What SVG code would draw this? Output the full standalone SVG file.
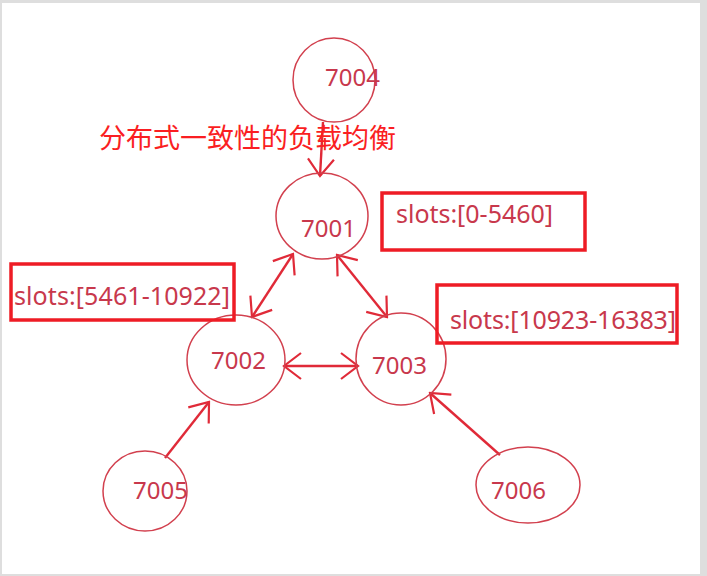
<svg xmlns="http://www.w3.org/2000/svg" width="707" height="576" viewBox="0 0 707 576">
<style>
.node ellipse{fill:none;stroke:#d2404e;stroke-width:1.5}
.node text{font-family:"Noto Sans","Liberation Sans",sans-serif;font-size:24px;fill:#c8384c}
.box rect{fill:none;stroke:#ee1c25;stroke-width:3.5}
.box text{font-family:"Noto Sans","Liberation Sans",sans-serif;font-size:25px;fill:#c8384c}
.conn line{stroke:#e02a38;stroke-width:2.4;fill:none}
.title{font-family:"Noto Sans CJK SC","Noto Sans",sans-serif;font-size:27px;fill:#fa1e22}
</style>
<defs>
<marker id="ah" viewBox="-19 -15 21 30" refX="0" refY="0" markerWidth="21" markerHeight="30" markerUnits="userSpaceOnUse" orient="auto-start-reverse">
<path d="M-17,-13 L0,0 L-17,13" fill="none" stroke="#e02a38" stroke-width="2.2"/>
</marker>
</defs>
<rect x="0" y="0" width="707" height="576" fill="#dedede"/>
<rect x="2" y="3" width="698" height="571" fill="#ffffff"/>

<g id="connectors" class="conn">
<line x1="323" y1="122" x2="320" y2="176" marker-end="url(#ah)"/>
<line x1="293" y1="254" x2="252" y2="317" marker-start="url(#ah)" marker-end="url(#ah)"/>
<line x1="337" y1="255" x2="387" y2="317" marker-start="url(#ah)" marker-end="url(#ah)"/>
<line x1="284" y1="366" x2="358" y2="366" marker-start="url(#ah)" marker-end="url(#ah)"/>
<line x1="165" y1="458" x2="209" y2="402" marker-end="url(#ah)"/>
<line x1="500" y1="455" x2="430" y2="393" marker-end="url(#ah)"/>
</g>

<g id="node-7004" class="node">
<ellipse cx="334" cy="80" rx="41" ry="42"/>
<text x="325" y="86">7004</text>
</g>
<text class="title" x="99" y="148">分布式一致性的负载均衡</text>
<g id="node-7001" class="node">
<ellipse cx="322" cy="216" rx="46" ry="43"/>
<text x="301" y="237">7001</text>
</g>
<g id="node-7002" class="node">
<ellipse cx="236" cy="360" rx="49" ry="45"/>
<text x="211" y="369">7002</text>
</g>
<g id="node-7003" class="node">
<ellipse cx="401" cy="359" rx="45" ry="46"/>
<text x="372" y="374">7003</text>
</g>
<g id="node-7005" class="node">
<ellipse cx="145" cy="491" rx="42" ry="40"/>
<text x="133" y="499">7005</text>
</g>
<g id="node-7006" class="node">
<ellipse cx="528" cy="485" rx="52" ry="38"/>
<text x="491" y="499">7006</text>
</g>

<g id="slots-7001" class="box">
<rect x="382" y="193" width="203" height="57"/>
<text x="396" y="223" textLength="157">slots:[0-5460]</text>
</g>
<g id="slots-7002" class="box">
<rect x="11" y="264" width="223" height="56"/>
<text x="14" y="305" textLength="216">slots:[5461-10922]</text>
</g>
<g id="slots-7003" class="box">
<rect x="437" y="285" width="240" height="58"/>
<text x="450" y="329" textLength="226">slots:[10923-16383]</text>
</g>
</svg>
